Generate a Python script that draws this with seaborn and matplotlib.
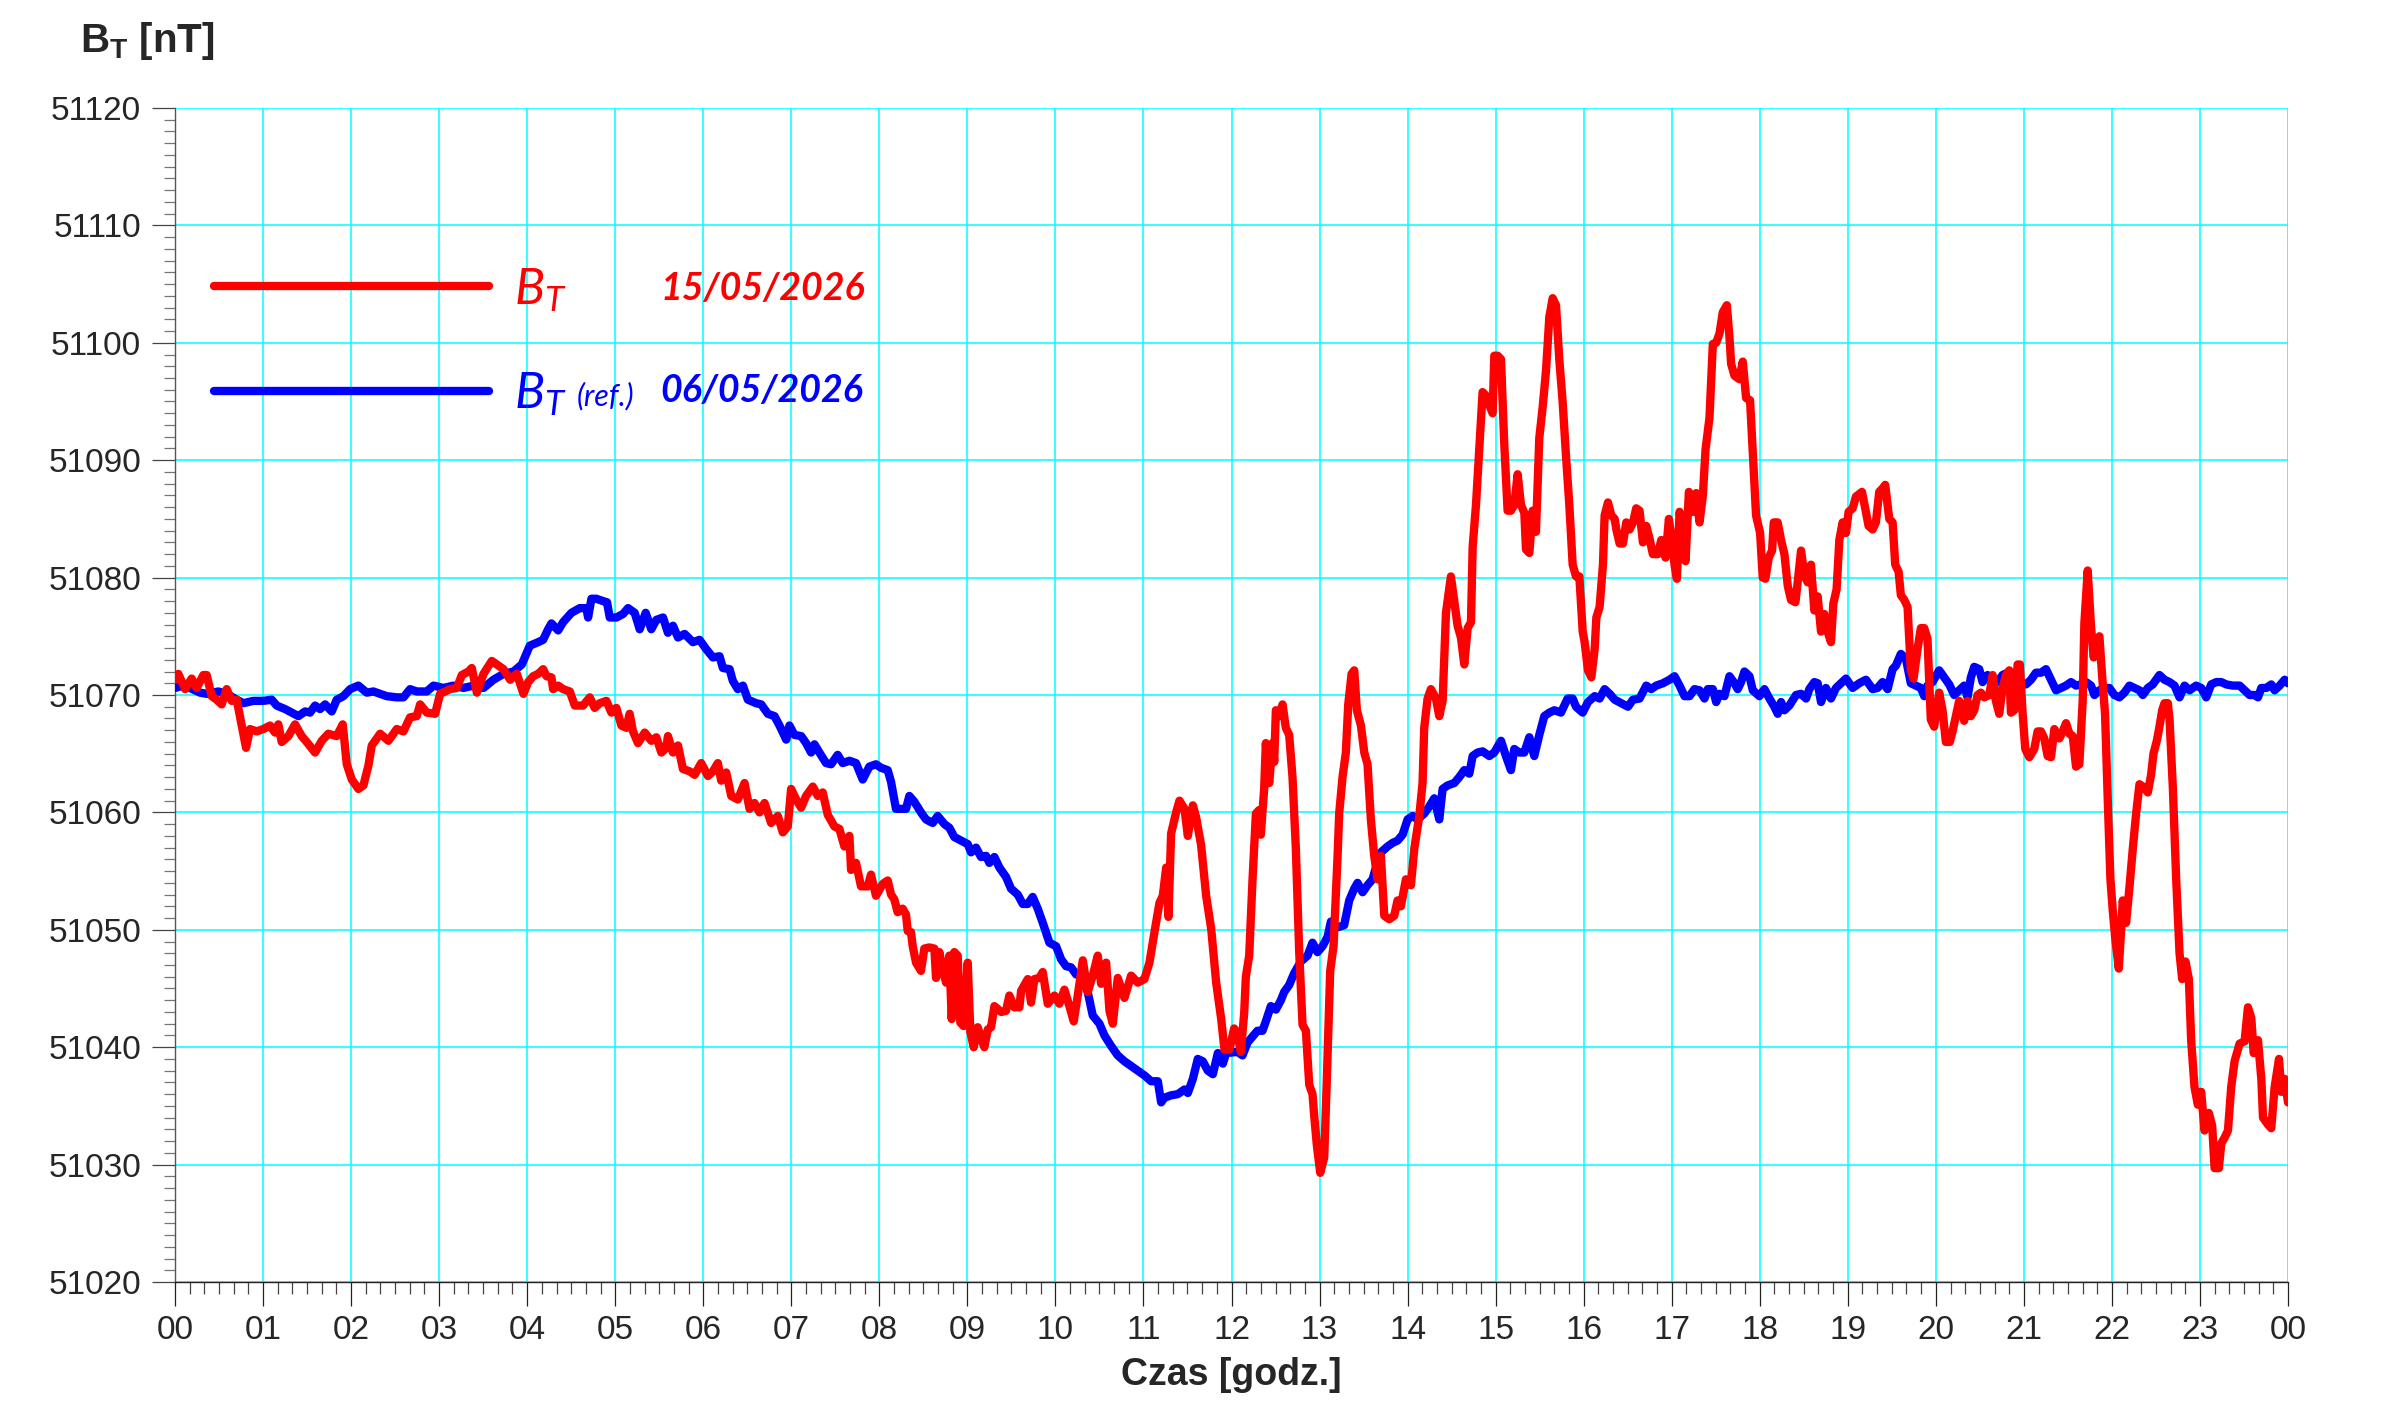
import numpy as np
import pandas as pd
import matplotlib
matplotlib.use("Agg")
import matplotlib.pyplot as plt
import seaborn as sns
from matplotlib.ticker import FixedLocator, FuncFormatter, MultipleLocator

# czas w godzinach, B_T w nT (odczyt z wykresu)
red_hours = [
    0.000, 0.038, 0.114, 0.189, 0.246, 0.322, 0.360, 0.417, 0.473, 0.530, 0.587, 0.644, 0.701, 0.758, 0.807, 0.852,
    0.928, 1.004, 1.080, 1.136, 1.174, 1.212, 1.288, 1.364, 1.439, 1.496, 1.591, 1.667, 1.742, 1.837, 1.905, 1.951,
    2.008, 2.083, 2.140, 2.197, 2.235, 2.330, 2.424, 2.519, 2.595, 2.670, 2.746, 2.784, 2.860, 2.955, 3.011, 3.125,
    3.201, 3.258, 3.333, 3.371, 3.428, 3.504, 3.598, 3.674, 3.731, 3.807, 3.883, 3.958,
    4.011, 4.068, 4.125, 4.181, 4.219, 4.276, 4.295, 4.352, 4.408, 4.484, 4.541, 4.597, 4.635, 4.711, 4.767, 4.824,
    4.900, 4.957, 5.013, 5.070, 5.127, 5.164, 5.202, 5.259, 5.335, 5.410, 5.467, 5.524, 5.580, 5.599, 5.656, 5.713,
    5.769, 5.845, 5.902, 5.977, 6.053, 6.110, 6.166, 6.204, 6.261, 6.318, 6.393, 6.469, 6.526, 6.582, 6.639, 6.696,
    6.771, 6.847, 6.904, 6.960, 6.998, 7.055, 7.112, 7.168, 7.244, 7.301, 7.357, 7.414, 7.490, 7.546, 7.603, 7.660,
    7.679, 7.735, 7.792, 7.868, 7.905, 7.962,
    8.038, 8.095, 8.133, 8.170, 8.208, 8.265, 8.303, 8.322, 8.360, 8.379, 8.417, 8.473, 8.511, 8.568, 8.625, 8.644,
    8.682, 8.720, 8.758, 8.795, 8.822, 8.852, 8.890, 8.920, 8.958, 9.004, 9.034, 9.072, 9.117, 9.155, 9.193, 9.231,
    9.269, 9.307, 9.383, 9.439, 9.477, 9.534, 9.591, 9.610, 9.686, 9.723, 9.761, 9.818, 9.856, 9.913, 9.989, 10.045,
    10.102, 10.159, 10.208, 10.254, 10.311, 10.367, 10.424, 10.481, 10.519, 10.576, 10.614, 10.652, 10.708, 10.784,
    10.860, 10.936, 11.011, 11.068, 11.125, 11.182, 11.220, 11.258, 11.284, 11.314, 11.371, 11.409, 11.466, 11.504,
    11.561, 11.598, 11.655, 11.712, 11.769, 11.826, 11.883, 11.920, 11.977,
    12.030, 12.068, 12.106, 12.144, 12.163, 12.201, 12.239, 12.277, 12.314, 12.333, 12.371, 12.390, 12.428, 12.466,
    12.485, 12.504, 12.542, 12.580, 12.617, 12.655, 12.693, 12.731, 12.769, 12.807, 12.845, 12.883, 12.920, 12.939,
    12.970, 13.008, 13.053, 13.083, 13.121, 13.159, 13.205, 13.223, 13.261, 13.299, 13.326, 13.364, 13.394, 13.424,
    13.470, 13.508, 13.545, 13.583, 13.621, 13.659, 13.697, 13.735, 13.792, 13.848, 13.886, 13.924, 13.981, 14.038,
    14.076, 14.133, 14.170, 14.189, 14.227, 14.265, 14.322, 14.360, 14.398, 14.436, 14.492, 14.530, 14.568, 14.606,
    14.644, 14.682, 14.720, 14.739, 14.777, 14.814, 14.852, 14.890, 14.928, 14.966, 14.985, 15.023, 15.061, 15.098,
    15.136, 15.174, 15.212, 15.250, 15.288, 15.326, 15.345, 15.383, 15.420, 15.458, 15.496, 15.534, 15.572, 15.610,
    15.648, 15.686, 15.723, 15.761, 15.799, 15.837, 15.875, 15.913, 15.951, 15.989,
    16.011, 16.049, 16.087, 16.125, 16.144, 16.181, 16.219, 16.238, 16.276, 16.314, 16.352, 16.371, 16.408, 16.446,
    16.484, 16.522, 16.560, 16.597, 16.635, 16.673, 16.711, 16.749, 16.786, 16.843, 16.881, 16.930, 16.968, 17.006,
    17.032, 17.059, 17.089, 17.127, 17.157, 17.195, 17.240, 17.278, 17.316, 17.354, 17.384, 17.429, 17.467, 17.505,
    17.543, 17.580, 17.626, 17.656, 17.675, 17.713, 17.769, 17.807, 17.845, 17.890, 17.921, 17.958, 18.004, 18.034,
    18.064, 18.102, 18.140, 18.159, 18.204, 18.242, 18.280, 18.318, 18.355, 18.405, 18.431, 18.469, 18.507, 18.544,
    18.582, 18.620, 18.658, 18.696, 18.733, 18.771, 18.809, 18.836, 18.873, 18.904, 18.941, 18.979, 19.009, 19.055,
    19.093, 19.161, 19.198, 19.236, 19.282, 19.319, 19.357, 19.395, 19.425, 19.471, 19.509, 19.539, 19.577, 19.603,
    19.641, 19.679, 19.716, 19.747, 19.792, 19.830, 19.868, 19.905, 19.943, 19.981,
    20.038, 20.076, 20.114, 20.159, 20.190, 20.227, 20.265, 20.296, 20.322, 20.360, 20.398, 20.436, 20.474, 20.512,
    20.550, 20.607, 20.645, 20.682, 20.720, 20.758, 20.796, 20.834, 20.853, 20.891, 20.929, 20.955, 20.986, 21.016,
    21.062, 21.118, 21.156, 21.194, 21.232, 21.270, 21.308, 21.346, 21.403, 21.441, 21.479, 21.517, 21.555, 21.592,
    21.630, 21.668, 21.687, 21.725, 21.763, 21.793, 21.827, 21.858, 21.888, 21.922, 21.953, 21.983, 22.009, 22.040,
    22.078, 22.104, 22.123, 22.161, 22.199, 22.237, 22.275, 22.313, 22.370, 22.408, 22.445, 22.472, 22.510, 22.540,
    22.571, 22.597, 22.635, 22.654, 22.692, 22.730, 22.768, 22.798, 22.836, 22.874, 22.900, 22.938, 22.976, 23.014,
    23.052, 23.101, 23.139, 23.166, 23.215, 23.242, 23.280, 23.318, 23.355, 23.393, 23.450, 23.507, 23.545, 23.583,
    23.610, 23.659, 23.697, 23.716, 23.773, 23.810, 23.848, 23.898, 23.924, 23.962, 24.000,
]
red_bt = [
    51071.3, 51071.8, 51070.5, 51071.4, 51070.6, 51071.7, 51071.7, 51069.9, 51069.6, 51069.2, 51070.5, 51069.5, 51069.6, 51067.4, 51065.5, 51067.1,
    51066.9, 51067.1, 51067.4, 51066.8, 51067.5, 51066.0, 51066.5, 51067.5, 51066.5, 51066.0, 51065.1, 51066.1, 51066.7, 51066.5, 51067.5, 51064.1,
    51062.8, 51062.0, 51062.3, 51064.0, 51065.7, 51066.7, 51066.1, 51067.1, 51066.9, 51068.1, 51068.2, 51069.2, 51068.5, 51068.4, 51070.1, 51070.5,
    51070.6, 51071.7, 51072.0, 51072.3, 51070.2, 51071.8, 51072.9, 51072.5, 51072.2, 51071.3, 51071.8, 51070.1,
    51071.1, 51071.6, 51071.8, 51072.2, 51071.6, 51071.5, 51070.5, 51070.8, 51070.5, 51070.3, 51069.1, 51069.1, 51069.1, 51069.8, 51068.9, 51069.3,
    51069.5, 51068.5, 51068.9, 51067.4, 51067.2, 51068.4, 51066.9, 51065.9, 51066.8, 51066.1, 51066.4, 51065.1, 51065.5, 51066.5, 51065.1, 51065.7,
    51063.7, 51063.5, 51063.2, 51064.2, 51063.1, 51063.5, 51064.2, 51062.7, 51063.4, 51061.4, 51061.1, 51062.5, 51060.3, 51060.8, 51060.0, 51060.8,
    51059.1, 51059.7, 51058.3, 51058.8, 51062.0, 51061.1, 51060.4, 51061.4, 51062.2, 51061.4, 51061.7, 51059.8, 51058.8, 51058.6, 51057.1, 51058.0,
    51055.1, 51055.7, 51053.7, 51053.7, 51054.7, 51052.9,
    51053.9, 51054.2, 51053.0, 51052.6, 51051.5, 51051.8, 51051.3, 51049.9, 51049.8, 51048.6, 51047.2, 51046.5, 51048.4, 51048.5, 51048.4, 51045.9,
    51048.1, 51046.6, 51045.5, 51047.8, 51042.4, 51048.1, 51047.8, 51042.1, 51041.8, 51047.2, 51041.3, 51040.0, 51041.7, 51040.8, 51040.0, 51041.5,
    51041.7, 51043.5, 51043.0, 51043.1, 51044.4, 51043.4, 51043.4, 51044.8, 51045.8, 51043.8, 51045.8, 51045.9, 51046.4, 51043.7, 51044.4, 51043.7,
    51044.9, 51043.5, 51042.2, 51044.4, 51047.4, 51044.7, 51046.1, 51047.8, 51045.4, 51047.2, 51043.1, 51042.0, 51045.9, 51044.2,
    51046.1, 51045.5, 51045.8, 51047.2, 51049.8, 51052.3, 51052.9, 51055.3, 51051.1, 51058.2, 51060.0, 51061.0, 51060.3, 51058.0,
    51060.6, 51059.6, 51057.2, 51052.9, 51050.1, 51045.5, 51042.4, 51039.8, 51039.8,
    51041.6, 51041.1, 51039.6, 51042.9, 51046.0, 51047.8, 51054.3, 51059.9, 51060.2, 51058.1, 51062.0, 51065.9, 51062.5, 51065.9,
    51064.3, 51068.7, 51068.2, 51069.2, 51067.2, 51066.6, 51063.0, 51056.9, 51048.1, 51041.9, 51041.4, 51036.8, 51036.0, 51034.2,
    51031.6, 51029.3, 51030.6, 51037.3, 51046.5, 51048.6, 51056.3, 51059.9, 51063.0, 51065.1, 51069.2, 51071.8, 51072.1, 51068.7,
    51067.4, 51065.1, 51064.1, 51059.4, 51056.3, 51054.3, 51056.3, 51051.2, 51050.9, 51051.2, 51052.5, 51052.0, 51054.3, 51053.8,
    51056.9, 51059.7, 51062.5, 51067.2, 51069.7, 51070.5, 51069.7, 51068.2, 51069.5, 51077.0, 51080.1, 51078.0, 51075.9, 51074.9,
    51072.6, 51075.7, 51076.2, 51082.6, 51086.2, 51090.9, 51095.8, 51095.5, 51094.7, 51094.0, 51098.9, 51098.9, 51098.6, 51091.4,
    51085.7, 51085.7, 51086.2, 51088.8, 51086.2, 51085.5, 51082.4, 51082.1, 51085.7, 51083.9, 51091.9, 51094.5, 51097.6, 51102.2,
    51103.8, 51103.2, 51098.6, 51095.0, 51090.4, 51086.2, 51081.1, 51080.1, 51080.1, 51075.4,
    51074.5, 51072.1, 51071.5, 51073.9, 51076.6, 51077.5, 51081.1, 51085.3, 51086.4, 51085.3, 51085.0, 51084.1, 51082.9, 51082.9,
    51084.7, 51084.1, 51084.7, 51085.9, 51085.7, 51083.0, 51084.4, 51083.3, 51082.0, 51082.0, 51083.2, 51081.7, 51085.0, 51082.9,
    51081.1, 51079.9, 51085.6, 51084.1, 51081.4, 51087.3, 51085.6, 51087.2, 51084.7, 51087.0, 51090.9, 51093.6, 51099.9, 51100.0,
    51100.8, 51102.6, 51103.2, 51100.5, 51098.2, 51097.2, 51096.9, 51098.4, 51095.3, 51095.1, 51090.6, 51085.3, 51083.8, 51080.0,
    51079.9, 51081.7, 51082.3, 51084.7, 51084.7, 51083.2, 51082.0, 51079.3, 51078.1, 51077.9, 51079.6, 51082.3, 51080.2, 51079.6,
    51081.1, 51077.2, 51078.4, 51075.4, 51076.9, 51075.4, 51074.5, 51077.8, 51079.0, 51083.2, 51084.7, 51083.8, 51085.6, 51085.9,
    51086.9, 51087.3, 51085.9, 51084.4, 51084.1, 51084.7, 51087.3, 51087.6, 51087.9, 51085.0, 51084.7, 51081.1, 51080.5, 51078.5,
    51078.1, 51077.5, 51072.1, 51071.4, 51073.9, 51075.7, 51075.7, 51074.8, 51067.9, 51067.3,
    51070.2, 51068.7, 51066.0, 51066.0, 51066.9, 51068.2, 51069.5, 51068.7, 51067.8, 51069.5, 51068.2, 51068.7, 51070.0, 51070.2,
    51069.8, 51070.0, 51071.7, 51069.5, 51068.4, 51070.6, 51071.7, 51072.1, 51068.5, 51068.7, 51072.6, 51072.6, 51068.4, 51065.4,
    51064.7, 51065.4, 51066.9, 51066.9, 51066.3, 51064.8, 51064.7, 51067.1, 51066.3, 51066.9, 51067.6, 51066.7, 51066.5, 51063.9,
    51064.1, 51069.5, 51076.1, 51080.6, 51075.8, 51073.2, 51074.6, 51075.0, 51071.7, 51068.4, 51061.0, 51054.3, 51051.7, 51049.1,
    51046.7, 51049.9, 51052.5, 51050.6, 51053.6, 51056.9, 51059.9, 51062.4, 51062.1, 51061.7, 51063.2, 51065.0, 51066.1, 51067.3,
    51068.7, 51069.3, 51069.3, 51068.0, 51062.1, 51054.3, 51048.0, 51045.8, 51047.3, 51045.8, 51040.6, 51036.6, 51035.1, 51036.2,
    51032.9, 51034.4, 51033.3, 51029.7, 51029.7, 51031.8, 51032.3, 51032.9, 51036.6, 51038.8, 51040.3, 51040.5, 51043.4, 51042.5,
    51039.5, 51040.6, 51037.3, 51034.0, 51033.4, 51033.1, 51036.6, 51039.0, 51036.2, 51037.3, 51035.3,
]

blue_hours = [
    0.000, 0.095, 0.170, 0.284, 0.360, 0.492, 0.587, 0.701, 0.777, 0.890, 1.004, 1.098, 1.155, 1.250, 1.326, 1.402,
    1.477, 1.534, 1.591, 1.648, 1.705, 1.780, 1.837, 1.913, 1.989, 2.083, 2.178, 2.254, 2.330, 2.405, 2.519, 2.595,
    2.670, 2.746, 2.860, 2.936, 3.049, 3.163, 3.277, 3.390, 3.504, 3.617, 3.731, 3.845, 3.939,
    4.030, 4.125, 4.181, 4.238, 4.276, 4.352, 4.408, 4.503, 4.597, 4.673, 4.692, 4.730, 4.786, 4.862, 4.907, 4.938,
    5.013, 5.089, 5.146, 5.221, 5.278, 5.346, 5.410, 5.467, 5.543, 5.599, 5.656, 5.713, 5.788, 5.883, 5.958, 6.034,
    6.110, 6.185, 6.223, 6.299, 6.336, 6.393, 6.450, 6.507, 6.601, 6.658, 6.734, 6.809, 6.866, 6.942, 6.979, 7.036,
    7.112, 7.168, 7.225, 7.263, 7.319, 7.395, 7.452, 7.527, 7.584, 7.660, 7.735, 7.811, 7.887, 7.962,
    8.019, 8.095, 8.133, 8.189, 8.246, 8.303, 8.341, 8.398, 8.473, 8.530, 8.606, 8.663, 8.739, 8.795, 8.852, 8.928,
    9.004, 9.042, 9.098, 9.155, 9.212, 9.250, 9.307, 9.364, 9.439, 9.496, 9.572, 9.629, 9.686, 9.742, 9.799, 9.856,
    9.932, 10.008, 10.064, 10.121, 10.178, 10.235, 10.311, 10.367, 10.424, 10.500, 10.557, 10.633, 10.708, 10.784,
    10.860, 10.936, 11.011, 11.087, 11.163, 11.201, 11.239, 11.314, 11.390, 11.466, 11.504, 11.561, 11.617, 11.674,
    11.731, 11.788, 11.845, 11.902, 11.939,
    12.068, 12.125, 12.182, 12.239, 12.295, 12.352, 12.390, 12.447, 12.504, 12.561, 12.598, 12.655, 12.712, 12.788,
    12.864, 12.920, 12.977, 13.034, 13.091, 13.129, 13.205, 13.280, 13.337, 13.394, 13.432, 13.489, 13.545, 13.602,
    13.640, 13.697, 13.773, 13.830, 13.886, 13.943, 14.000, 14.057, 14.114, 14.189, 14.246, 14.303, 14.360, 14.398,
    14.455, 14.530, 14.587, 14.644, 14.701, 14.739, 14.795, 14.852, 14.928, 14.985, 15.061, 15.117, 15.174, 15.212,
    15.269, 15.326, 15.383, 15.439, 15.496, 15.553, 15.610, 15.667, 15.742, 15.818, 15.875, 15.913, 15.989,
    16.049, 16.125, 16.181, 16.238, 16.295, 16.352, 16.427, 16.503, 16.560, 16.635, 16.711, 16.767, 16.824, 16.900,
    16.975, 17.032, 17.089, 17.146, 17.202, 17.259, 17.316, 17.372, 17.410, 17.467, 17.505, 17.543, 17.599, 17.656,
    17.713, 17.750, 17.788, 17.826, 17.883, 17.921, 17.996, 18.053, 18.110, 18.166, 18.204, 18.242, 18.280, 18.336,
    18.412, 18.469, 18.526, 18.563, 18.620, 18.658, 18.696, 18.752, 18.809, 18.866, 18.922, 18.979, 19.055, 19.130,
    19.206, 19.282, 19.338, 19.395, 19.452, 19.509, 19.546, 19.603, 19.660, 19.716, 19.773, 19.830, 19.868, 19.905,
    19.962,
    20.038, 20.095, 20.152, 20.209, 20.265, 20.322, 20.360, 20.398, 20.436, 20.493, 20.531, 20.588, 20.645, 20.701,
    20.758, 20.815, 20.891, 20.948, 21.024, 21.081, 21.137, 21.194, 21.251, 21.308, 21.365, 21.422, 21.479, 21.536,
    21.592, 21.649, 21.706, 21.763, 21.801, 21.858, 21.915, 21.972, 22.028, 22.085, 22.142, 22.199, 22.256, 22.313,
    22.351, 22.408, 22.464, 22.540, 22.597, 22.654, 22.711, 22.768, 22.825, 22.882, 22.957, 23.014, 23.071, 23.128,
    23.185, 23.242, 23.299, 23.374, 23.450, 23.507, 23.564, 23.621, 23.659, 23.697, 23.754, 23.810, 23.848, 23.905,
    23.962, 24.000,
]
blue_bt = [
    51070.6, 51070.8, 51070.6, 51070.2, 51070.1, 51070.3, 51070.1, 51069.6, 51069.3, 51069.5, 51069.5, 51069.6, 51069.1, 51068.8, 51068.5, 51068.2,
    51068.6, 51068.5, 51069.1, 51068.8, 51069.2, 51068.6, 51069.6, 51069.9, 51070.5, 51070.8, 51070.2, 51070.3, 51070.1, 51069.9, 51069.8, 51069.8,
    51070.5, 51070.3, 51070.3, 51070.8, 51070.6, 51070.8, 51070.6, 51070.8, 51070.6, 51071.3, 51071.8, 51072.0, 51072.6,
    51074.2, 51074.5, 51074.7, 51075.6, 51076.1, 51075.5, 51076.2, 51077.0, 51077.4, 51077.4, 51076.6, 51078.2, 51078.2, 51078.0, 51077.9, 51076.6,
    51076.6, 51076.9, 51077.4, 51077.0, 51075.6, 51077.0, 51075.6, 51076.4, 51076.6, 51075.3, 51075.9, 51074.9, 51075.2, 51074.5, 51074.7, 51073.9,
    51073.2, 51073.3, 51072.3, 51072.2, 51071.2, 51070.5, 51070.8, 51069.6, 51069.3, 51069.2, 51068.4, 51068.2, 51067.4, 51066.2, 51067.4, 51066.6,
    51066.5, 51065.9, 51065.1, 51065.8, 51065.1, 51064.2, 51064.1, 51064.9, 51064.2, 51064.4, 51064.2, 51062.8, 51063.9, 51064.1,
    51063.8, 51063.6, 51062.6, 51060.3, 51060.3, 51060.3, 51061.4, 51060.9, 51060.0, 51059.4, 51059.1, 51059.7, 51059.0, 51058.7, 51057.9, 51057.6,
    51057.3, 51056.6, 51057.0, 51056.2, 51056.3, 51055.7, 51056.2, 51055.3, 51054.5, 51053.5, 51053.0, 51052.2, 51052.2, 51052.8, 51051.8, 51050.6,
    51048.9, 51048.6, 51047.5, 51046.9, 51046.8, 51046.2, 51046.1, 51044.7, 51042.7, 51042.0, 51041.0, 51040.1, 51039.3, 51038.8,
    51038.4, 51038.0, 51037.6, 51037.1, 51037.1, 51035.3, 51035.7, 51035.9, 51036.0, 51036.4, 51036.1, 51037.3, 51039.0, 51038.8,
    51038.0, 51037.7, 51039.5, 51038.6, 51039.5,
    51039.6, 51039.3, 51040.4, 51040.9, 51041.4, 51041.4, 51042.2, 51043.5, 51043.2, 51044.0, 51044.7, 51045.3, 51046.3, 51047.3,
    51047.8, 51048.9, 51048.1, 51048.6, 51049.4, 51050.7, 51050.2, 51050.4, 51052.5, 51053.5, 51054.0, 51053.2, 51053.8, 51054.3,
    51055.3, 51056.6, 51057.1, 51057.4, 51057.6, 51058.1, 51059.4, 51059.7, 51059.4, 51059.9, 51060.5, 51061.2, 51059.4, 51062.0,
    51062.3, 51062.5, 51063.0, 51063.6, 51063.3, 51064.8, 51065.1, 51065.2, 51064.8, 51065.1, 51066.1, 51064.8, 51063.6, 51065.4,
    51065.1, 51065.1, 51066.4, 51064.8, 51066.6, 51068.2, 51068.5, 51068.7, 51068.5, 51069.7, 51069.7, 51069.0, 51068.5,
    51069.4, 51069.9, 51069.7, 51070.5, 51070.1, 51069.6, 51069.3, 51069.0, 51069.6, 51069.7, 51070.8, 51070.5, 51070.8, 51071.0,
    51071.3, 51071.6, 51070.8, 51069.9, 51069.9, 51070.5, 51070.4, 51069.7, 51070.5, 51070.5, 51069.4, 51070.1, 51069.9, 51071.6,
    51071.0, 51070.5, 51071.1, 51072.0, 51071.6, 51070.4, 51069.9, 51070.5, 51069.7, 51069.0, 51068.4, 51069.4, 51068.7, 51069.1,
    51070.0, 51070.1, 51069.7, 51070.5, 51071.1, 51071.0, 51069.4, 51070.6, 51069.7, 51070.6, 51071.0, 51071.4, 51070.6, 51071.0,
    51071.3, 51070.5, 51070.6, 51071.1, 51070.5, 51072.2, 51072.5, 51073.5, 51073.1, 51071.0, 51070.8, 51070.6, 51069.9, 51070.8,
    51071.1,
    51072.1, 51071.5, 51070.9, 51070.0, 51070.4, 51070.8, 51069.8, 51071.5, 51072.4, 51072.2, 51071.1, 51071.7, 51071.3, 51071.1,
    51071.7, 51071.9, 51071.7, 51071.1, 51070.9, 51071.3, 51071.9, 51071.9, 51072.2, 51071.3, 51070.4, 51070.6, 51070.8, 51071.1,
    51070.8, 51070.9, 51071.1, 51070.8, 51070.0, 51070.4, 51070.6, 51070.6, 51070.0, 51069.8, 51070.2, 51070.8, 51070.6, 51070.4,
    51070.0, 51070.6, 51070.9, 51071.7, 51071.3, 51071.1, 51070.8, 51069.8, 51070.8, 51070.4, 51070.8, 51070.6, 51069.8, 51070.9,
    51071.1, 51071.1, 51070.9, 51070.8, 51070.8, 51070.4, 51070.0, 51070.0, 51069.8, 51070.6, 51070.6, 51070.9, 51070.4, 51070.8,
    51071.3, 51071.0,
]

hour_ticks = list(range(25))
bt_ticks = list(range(51020, 51121, 10))

label_red = "15/05/2026"
label_blue = "06/05/2026"

sns.set_style("white")
plt.rcParams['font.family'] = ['Liberation Sans', 'DejaVu Sans']
plt.rcParams['mathtext.fontset'] = 'custom'
plt.rcParams['mathtext.it'] = 'Lato:italic'
plt.rcParams['mathtext.rm'] = 'Lato'
plt.rcParams['mathtext.bf'] = 'Liberation Sans:bold'

W, H = 2386, 1402
fig = plt.figure(figsize=(W / 100, H / 100), dpi=100)
ax = fig.add_axes([175 / W, 1 - 1282 / H, (2288 - 175) / W, (1282 - 108) / H])

df_red = pd.DataFrame({"czas": red_hours, "bt": red_bt})
df_blue = pd.DataFrame({"czas": blue_hours, "bt": blue_bt})

line_kw = dict(linewidth=6, estimator=None, sort=False, solid_joinstyle='round', solid_capstyle='round')
sns.lineplot(data=df_red, x="czas", y="bt", color="#ff0000", ax=ax, label="$B_T$", zorder=4, **line_kw)
sns.lineplot(data=df_blue, x="czas", y="bt", color="#0000ff", ax=ax, label="$B_T$", zorder=3, **line_kw)

ax.set_xlim(0, 24)
ax.set_ylim(51020, 51120)
ax.xaxis.set_major_locator(FixedLocator(hour_ticks))
ax.xaxis.set_major_formatter(FuncFormatter(lambda v, p: f"{int(round(v)) % 24:02d}"))
ax.xaxis.set_minor_locator(MultipleLocator(1 / 6))
ax.yaxis.set_major_locator(FixedLocator(bt_ticks))
ax.yaxis.set_minor_locator(MultipleLocator(1))

ax.set_axisbelow(True)
ax.grid(True, which='major', color='#00ffff', lw=1.1)

for s in ['top', 'right']:
    ax.spines[s].set_visible(False)
ax.spines['left'].set_color('#555555')
ax.spines['bottom'].set_color('#222222')
ax.spines['left'].set_linewidth(1.0)
ax.spines['bottom'].set_linewidth(1.0)

ax.tick_params(axis='x', which='both', bottom=True, top=False)
ax.tick_params(axis='y', which='both', left=True, right=False)
ax.tick_params(axis='x', which='major', direction='out', length=17, width=0.9, color='#222222',
               pad=7, labelsize=24)
ax.tick_params(axis='x', which='minor', direction='out', length=8.5, width=0.9, color='#444444')
ax.tick_params(axis='y', which='major', direction='out', length=16.5, width=0.9, color='#444444',
               pad=8, labelsize=24)
ax.tick_params(axis='y', which='minor', direction='out', length=8, width=0.9, color='#777777')

ax.set_xlabel("Czas [godz.]", fontsize=27, fontweight='bold', labelpad=8)
ax.set_ylabel("")

fig.text(80 / W, 1 - 52 / H, r"$\mathbf{B_T}$ [nT]", fontsize=29, fontweight='bold', va='baseline', ha='left')

leg = ax.legend(loc='upper left', bbox_to_anchor=((214 - 175) / 2113, (1282 - 266) / 1174),
                frameon=False, fontsize=36, handlelength=5.5, handletextpad=0.5,
                borderpad=0, borderaxespad=0, labelspacing=1.14)
for txt, c in zip(leg.get_texts(), ["#ff0000", "#0000ff"]):
    txt.set_color(c)

fig.text(577 / W, 1 - 405 / H, "(ref.)", color="#0000ff", fontsize=22, style='italic',
         family='Lato', va='baseline')
fig.text(660 / W, 1 - 300 / H, label_red, color="#ff0000", fontsize=27, fontweight='bold',
         style='italic', family='Lato', va='baseline')
fig.text(660 / W, 1 - 402 / H, label_blue, color="#0000ff", fontsize=27, fontweight='bold',
         style='italic', family='Lato', va='baseline')

fig.savefig("out.png", dpi=100)
